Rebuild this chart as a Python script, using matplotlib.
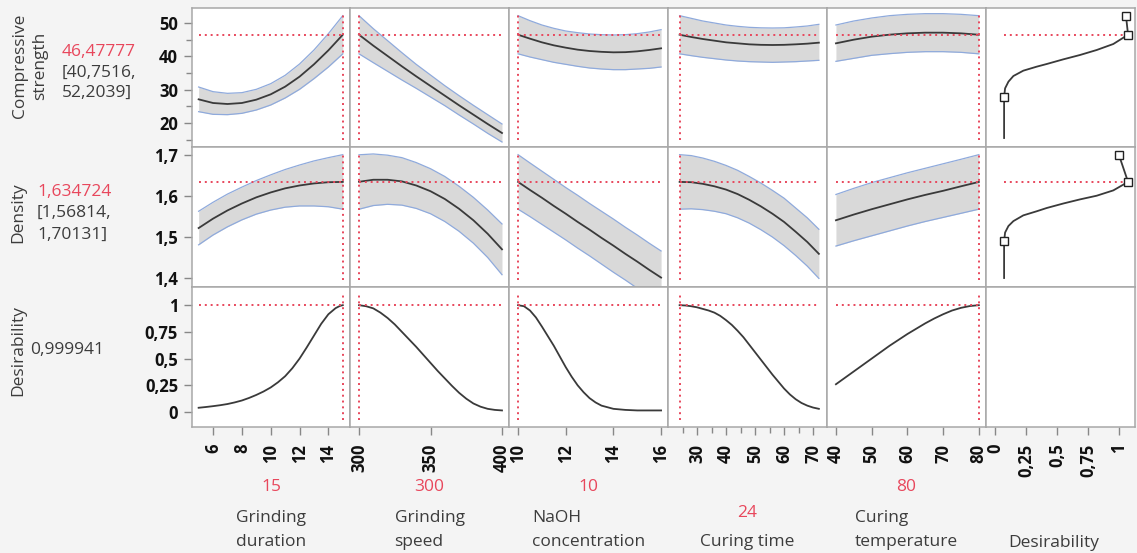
import matplotlib
matplotlib.use("Agg")
import matplotlib.pyplot as plt
from matplotlib.ticker import FixedLocator, FuncFormatter

plt.rcParams['font.family'] = ['Open Sans', 'DejaVu Sans']

# ---------------- data ----------------
# Grinding duration
gd_x = [5, 6, 7, 8, 9, 10, 11, 12, 13, 14, 15]
gd_cs = [27.1, 26.0, 25.7, 26.0, 27.0, 28.6, 30.9, 33.9, 37.6, 41.8, 46.48]
gd_cs_hi = [30.8, 29.4, 28.9, 29.1, 30.1, 31.8, 34.3, 37.7, 41.9, 46.8, 52.2]
gd_cs_lo = [23.4, 22.6, 22.5, 22.9, 23.9, 25.4, 27.5, 30.1, 33.3, 36.8, 40.75]
gd_den = [1.522, 1.545, 1.565, 1.582, 1.597, 1.609, 1.619, 1.626, 1.631, 1.634, 1.6347]
gd_den_hi = [1.563, 1.585, 1.605, 1.622, 1.638, 1.652, 1.665, 1.676, 1.686, 1.694, 1.7013]
gd_den_lo = [1.481, 1.505, 1.525, 1.542, 1.556, 1.566, 1.573, 1.576, 1.576, 1.574, 1.5681]
gd_des_x = [5.0, 5.5, 6.0, 6.5, 7.0, 7.5, 8.0, 8.5, 9.0, 9.5, 10.0, 10.5, 11.0,
            11.5, 12.0, 12.5, 13.0, 13.5, 14.0, 14.5, 14.8, 15.0]
gd_des = [0.040, 0.047, 0.055, 0.064, 0.075, 0.090, 0.108, 0.132, 0.160, 0.192, 0.230,
          0.278, 0.335, 0.410, 0.500, 0.605, 0.715, 0.825, 0.915, 0.972, 0.993, 0.9999]

# Grinding speed
gs_x = [300, 310, 320, 330, 340, 350, 360, 370, 380, 390, 400]
gs_cs = [46.48, 43.2, 40.1, 37.0, 34.0, 31.1, 28.2, 25.3, 22.5, 19.7, 17.0]
gs_cs_hi = [52.2, 48.3, 44.7, 41.1, 37.6, 34.4, 31.2, 28.2, 25.3, 22.5, 19.7]
gs_cs_lo = [40.75, 38.1, 35.5, 32.9, 30.4, 27.8, 25.2, 22.4, 19.7, 16.9, 14.3]
gs_den = [1.635, 1.640, 1.640, 1.636, 1.626, 1.612, 1.593, 1.569, 1.541, 1.508, 1.470]
gs_den_hi = [1.701, 1.703, 1.700, 1.694, 1.682, 1.667, 1.648, 1.624, 1.597, 1.566, 1.532]
gs_den_lo = [1.568, 1.577, 1.580, 1.578, 1.570, 1.557, 1.538, 1.514, 1.485, 1.450, 1.408]
gs_des_x = [300, 305, 310, 315, 320, 325, 330, 335, 340, 345, 350, 355, 360, 365,
            370, 375, 380, 385, 390, 395, 400]
gs_des = [0.9999, 0.99, 0.97, 0.93, 0.88, 0.82, 0.75, 0.68, 0.61, 0.535, 0.46, 0.385,
          0.315, 0.245, 0.18, 0.125, 0.08, 0.05, 0.03, 0.02, 0.015]

# NaOH concentration
na_x = [10, 10.5, 11, 11.5, 12, 12.5, 13, 13.5, 14, 14.5, 15, 15.5, 16]
na_cs = [46.48, 45.3, 44.2, 43.3, 42.6, 42.0, 41.6, 41.35, 41.2, 41.25, 41.5, 41.9, 42.4]
na_cs_hi = [52.2, 50.7, 49.4, 48.4, 47.6, 47.1, 46.7, 46.5, 46.4, 46.5, 46.8, 47.3, 48.0]
na_cs_lo = [40.75, 39.8, 39.0, 38.2, 37.6, 37.0, 36.5, 36.2, 36.0, 36.0, 36.2, 36.4, 36.8]
na_den = [1.6347, 1.615, 1.596, 1.576, 1.557, 1.537, 1.518, 1.498, 1.479, 1.459,
          1.440, 1.420, 1.401]
na_den_hi = [1.7013, 1.681, 1.661, 1.641, 1.621, 1.602, 1.582, 1.563, 1.544, 1.524,
             1.505, 1.485, 1.466]
na_den_lo = [1.5681, 1.550, 1.531, 1.512, 1.493, 1.473, 1.454, 1.434, 1.414, 1.395,
             1.375, 1.355, 1.336]
na_des_x = [10, 10.25, 10.5, 10.75, 11, 11.25, 11.5, 11.75, 12, 12.25, 12.5, 12.75,
            13, 13.25, 13.5, 14, 14.5, 15, 16]
na_des = [0.9999, 0.99, 0.95, 0.885, 0.80, 0.71, 0.62, 0.52, 0.42, 0.33, 0.25, 0.185,
          0.13, 0.09, 0.06, 0.03, 0.02, 0.015, 0.015]

# Curing time
ct_x = [24, 28, 32, 36, 40, 44, 48, 52, 56, 60, 64, 68, 72]
ct_cs = [46.48, 45.8, 45.2, 44.7, 44.2, 43.9, 43.6, 43.45, 43.4, 43.45, 43.6, 43.8, 44.1]
ct_cs_hi = [52.2, 51.4, 50.6, 50.0, 49.4, 49.0, 48.7, 48.55, 48.5, 48.55, 48.8, 49.1, 49.6]
ct_cs_lo = [40.75, 40.2, 39.7, 39.3, 38.9, 38.6, 38.4, 38.3, 38.2, 38.3, 38.4, 38.6, 38.8]
ct_den = [1.6347, 1.634, 1.630, 1.624, 1.616, 1.605, 1.591, 1.575, 1.557, 1.537,
          1.513, 1.488, 1.459]
ct_den_hi = [1.7013, 1.699, 1.693, 1.685, 1.675, 1.663, 1.648, 1.632, 1.614, 1.595,
             1.571, 1.547, 1.519]
ct_den_lo = [1.5681, 1.569, 1.567, 1.563, 1.557, 1.547, 1.534, 1.518, 1.500, 1.479,
             1.455, 1.429, 1.399]
ct_des_x = [24, 26, 28, 30, 32, 34, 36, 38, 40, 42, 44, 46, 48, 50, 52, 54, 56, 58,
            60, 62, 64, 66, 68, 70, 72]
ct_des = [0.9999, 0.997, 0.99, 0.98, 0.965, 0.95, 0.93, 0.90, 0.86, 0.815, 0.76, 0.70,
          0.63, 0.56, 0.49, 0.42, 0.35, 0.285, 0.22, 0.165, 0.12, 0.085, 0.06, 0.042, 0.03]

# Curing temperature
tp_x = [40, 45, 50, 55, 60, 65, 70, 75, 80]
tp_cs = [43.9, 45.0, 45.9, 46.5, 46.9, 47.1, 47.1, 46.9, 46.48]
tp_cs_hi = [49.4, 50.6, 51.5, 52.2, 52.6, 52.8, 52.8, 52.6, 52.2]
tp_cs_lo = [38.5, 39.4, 40.3, 40.8, 41.2, 41.4, 41.4, 41.2, 40.75]
tp_den = [1.541, 1.555, 1.568, 1.580, 1.592, 1.603, 1.613, 1.624, 1.6347]
tp_den_hi = [1.604, 1.619, 1.633, 1.645, 1.657, 1.668, 1.679, 1.690, 1.7013]
tp_den_lo = [1.478, 1.491, 1.503, 1.515, 1.527, 1.538, 1.548, 1.558, 1.5681]
tp_des_x = [40, 42.5, 45, 47.5, 50, 52.5, 55, 57.5, 60, 62.5, 65, 67.5, 70, 72.5,
            75, 77.5, 80]
tp_des = [0.26, 0.32, 0.38, 0.44, 0.50, 0.56, 0.62, 0.675, 0.73, 0.78, 0.83, 0.875,
          0.915, 0.95, 0.975, 0.992, 0.9999]

# Desirability functions (desirability on x, response on y); the last point is
# the upper handle, joined to the high handle before it
cs_fn_d = [0.073, 0.073, 0.081, 0.108, 0.148, 0.228, 0.336, 0.417, 0.551, 0.685,
           0.82, 0.954, 1.073, 1.056]
cs_fn_y = [15.5, 27.8, 30.4, 32.4, 34.1, 35.7, 36.9, 37.7, 39.1, 40.4, 41.9, 43.7,
           46.48, 52.2]
den_fn_d = [0.073, 0.073, 0.081, 0.108, 0.148, 0.228, 0.336, 0.417, 0.551, 0.685,
            0.82, 0.954, 1.073, 1.0]
den_fn_y = [1.40, 1.49, 1.511, 1.527, 1.539, 1.553, 1.563, 1.571, 1.582, 1.592,
            1.601, 1.614, 1.6347, 1.70]
fn_marker_idx = [1, 12, 13]

# Current settings and predictions
factor_names = ["Grinding\nduration", "Grinding\nspeed", "NaOH\nconcentration",
                "Curing time", "Curing\ntemperature"]
factor_values = [15, 300, 10, 24, 80]
factor_value_text = ["15", "300", "10", "24", "80"]
cs_pred, cs_pred_text, cs_ci = 46.47777, "46,47777", ("40,7516", "52,2039")
den_pred, den_pred_text, den_ci = 1.634724, "1,634724", ("1,56814", "1,70131")
des_pred, des_pred_text = 0.999941, "0,999941"

# Axis ranges and ticks
factor_lims = [(4.54, 15.5), (293.7, 404.9), (9.62, 16.29), (20, 74.8), (37.5, 82)]
factor_ticks = [[6, 8, 10, 12, 14], [300, 350, 400], [10, 12, 14, 16],
                [30, 40, 50, 60, 70], [40, 50, 60, 70, 80]]
factor_minor = [[], [], [], [25, 35, 45, 55, 65], []]
des_col_lims = (-0.073, 1.129)
des_col_ticks = [0, 0.25, 0.5, 0.75, 1]
row_lims = [(12.8, 54.5), (1.378, 1.72), (-0.14, 1.17)]
row_ticks = [[20, 30, 40, 50], [1.4, 1.5, 1.6, 1.7], [0, 0.25, 0.5, 0.75, 1]]
row_minor = [[15, 25, 35, 45], [], []]

# ---------------- drawing ----------------
W, H = 1137, 553
fig = plt.figure(figsize=(W / 100, H / 100), dpi=100)
fig.patch.set_facecolor("#F4F4F4")

RED = "#E8475C"
BAND = "#D9D9D9"
BAND_EDGE = "#8FAADC"
LINE = "#3A3A3A"
GRID = "#A8A8A8"
TXT = "#3C3C3C"

cols = [192, 350, 509, 668, 827, 986, 1135]
rows = [8, 147, 287, 427]


def comma(v, pos=None):
    return f"{v:g}".replace(".", ",")


def fx(x):
    return x / W


def fy(y):
    return 1 - y / H


profiles = [
    (gd_x, gd_cs, gd_cs_lo, gd_cs_hi, gd_den, gd_den_lo, gd_den_hi, gd_des_x, gd_des),
    (gs_x, gs_cs, gs_cs_lo, gs_cs_hi, gs_den, gs_den_lo, gs_den_hi, gs_des_x, gs_des),
    (na_x, na_cs, na_cs_lo, na_cs_hi, na_den, na_den_lo, na_den_hi, na_des_x, na_des),
    (ct_x, ct_cs, ct_cs_lo, ct_cs_hi, ct_den, ct_den_lo, ct_den_hi, ct_des_x, ct_des),
    (tp_x, tp_cs, tp_cs_lo, tp_cs_hi, tp_den, tp_den_lo, tp_den_hi, tp_des_x, tp_des),
]
preds = [cs_pred, den_pred, des_pred]
red_ls = (0, (1.0, 2.0))

for r in range(3):
    for c in range(6):
        x0, x1 = cols[c], cols[c + 1]
        y0, y1 = rows[r], rows[r + 1]
        ax = fig.add_axes([fx(x0), fy(y1), (x1 - x0) / W, (y1 - y0) / H])
        ax.set_facecolor("white")
        for s in ax.spines.values():
            s.set_color(GRID)
            s.set_linewidth(1.1)
        ax.set_ylim(*row_lims[r])

        if c < 5:
            ax.set_xlim(*factor_lims[c])
            prof = profiles[c]
            xs = prof[0]
            if r < 2:
                mid, lo, hi = prof[1 + 3 * r], prof[2 + 3 * r], prof[3 + 3 * r]
                ax.fill_between(xs, lo, hi, color=BAND, lw=0, zorder=1)
                ax.plot(xs, lo, color=BAND_EDGE, lw=0.9, zorder=2)
                ax.plot(xs, hi, color=BAND_EDGE, lw=0.9, zorder=2)
                ax.plot(xs, mid, color=LINE, lw=1.3, zorder=3)
            else:
                ax.plot(prof[7], prof[8], color=LINE, lw=1.3, zorder=3)
            ax.hlines(preds[r], min(xs), max(xs), color=RED, lw=1.4,
                      linestyles=[red_ls], zorder=4)
            ax.axvline(factor_values[c], ymin=0.05, ymax=0.95, color=RED, lw=1.4,
                       ls=red_ls, zorder=4)
        else:
            ax.set_xlim(*des_col_lims)
            if r == 0:
                fd, fv = cs_fn_d, cs_fn_y
            elif r == 1:
                fd, fv = den_fn_d, den_fn_y
            else:
                fd, fv = None, None
            if fd is not None:
                ax.plot(fd[:-1], fv[:-1], color=LINE, lw=1.3, zorder=3)
                ax.plot(fd[-2:], fv[-2:], color=LINE, lw=1.3, zorder=3)
                ax.hlines(preds[r], fd[0], fd[-2], color=RED, lw=1.4,
                          linestyles=[red_ls], zorder=2)
                ax.plot([fd[i] for i in fn_marker_idx], [fv[i] for i in fn_marker_idx],
                        ls="none", marker="s", ms=6, mfc="white", mec="#222222",
                        mew=1.0, zorder=5)

        # ticks
        if c == 0:
            ax.yaxis.set_major_locator(FixedLocator(row_ticks[r]))
            ax.yaxis.set_minor_locator(FixedLocator(row_minor[r]))
            ax.yaxis.set_major_formatter(FuncFormatter(comma))
            ax.tick_params(axis="y", which="major", length=6, width=1, color="#888888",
                           pad=4, labelsize=12, labelcolor="#111111")
            ax.tick_params(axis="y", which="minor", length=4, width=1, color="#888888")
            for lab in ax.get_yticklabels():
                lab.set_fontweight("bold")
        else:
            ax.set_yticks([])
        if r == 2:
            if c < 5:
                ax.xaxis.set_major_locator(FixedLocator(factor_ticks[c]))
                ax.xaxis.set_minor_locator(FixedLocator(factor_minor[c]))
            else:
                ax.xaxis.set_major_locator(FixedLocator(des_col_ticks))
            ax.xaxis.set_major_formatter(FuncFormatter(comma))
            ax.tick_params(axis="x", which="major", length=6, width=1, color="#888888",
                           pad=6, labelsize=12, labelcolor="#111111", labelrotation=90)
            ax.tick_params(axis="x", which="minor", length=4, width=1, color="#888888")
            for lab in ax.get_xticklabels():
                lab.set_fontweight("bold")
        else:
            ax.set_xticks([])

# response labels on the left
fs = 12.5
fig.text(fx(30), fy(66), "Compressive\nstrength", rotation=90, ha="center", va="center",
         multialignment="center", fontsize=fs, color=TXT, linespacing=1.3)
fig.text(fx(62), fy(52), cs_pred_text, ha="left", va="center", fontsize=fs, color=RED)
fig.text(fx(62), fy(73), "[" + cs_ci[0] + ",", ha="left", va="center", fontsize=fs, color=TXT)
fig.text(fx(62), fy(93), cs_ci[1] + "]", ha="left", va="center", fontsize=fs, color=TXT)

fig.text(fx(18), fy(213), "Density", rotation=90, ha="center", va="center",
         fontsize=fs, color=TXT)
fig.text(fx(37), fy(192), den_pred_text, ha="left", va="center", fontsize=fs, color=RED)
fig.text(fx(37), fy(213), "[" + den_ci[0] + ",", ha="left", va="center", fontsize=fs, color=TXT)
fig.text(fx(37), fy(235), den_ci[1] + "]", ha="left", va="center", fontsize=fs, color=TXT)

fig.text(fx(18), fy(351), "Desirability", rotation=90, ha="center", va="center",
         fontsize=fs, color=TXT)
fig.text(fx(30), fy(350), des_pred_text, ha="left", va="center", fontsize=fs, color=TXT)

# factor labels along the bottom
for c in range(5):
    cx = (cols[c] + cols[c + 1]) / 2
    name = factor_names[c]
    two_lines = "\n" in name
    fig.text(fx(cx), fy(550), name, ha="center", va="bottom", multialignment="left",
             fontsize=fs, color=TXT, linespacing=1.65)
    vy = 487 if two_lines else 513
    fig.text(fx(cx), fy(vy), factor_value_text[c], ha="center", va="center",
             fontsize=fs, color=RED)
fig.text(fx(1054), fy(551), "Desirability", ha="center", va="bottom", fontsize=fs, color=TXT)

fig.savefig("out.png", dpi=100, facecolor=fig.get_facecolor())
